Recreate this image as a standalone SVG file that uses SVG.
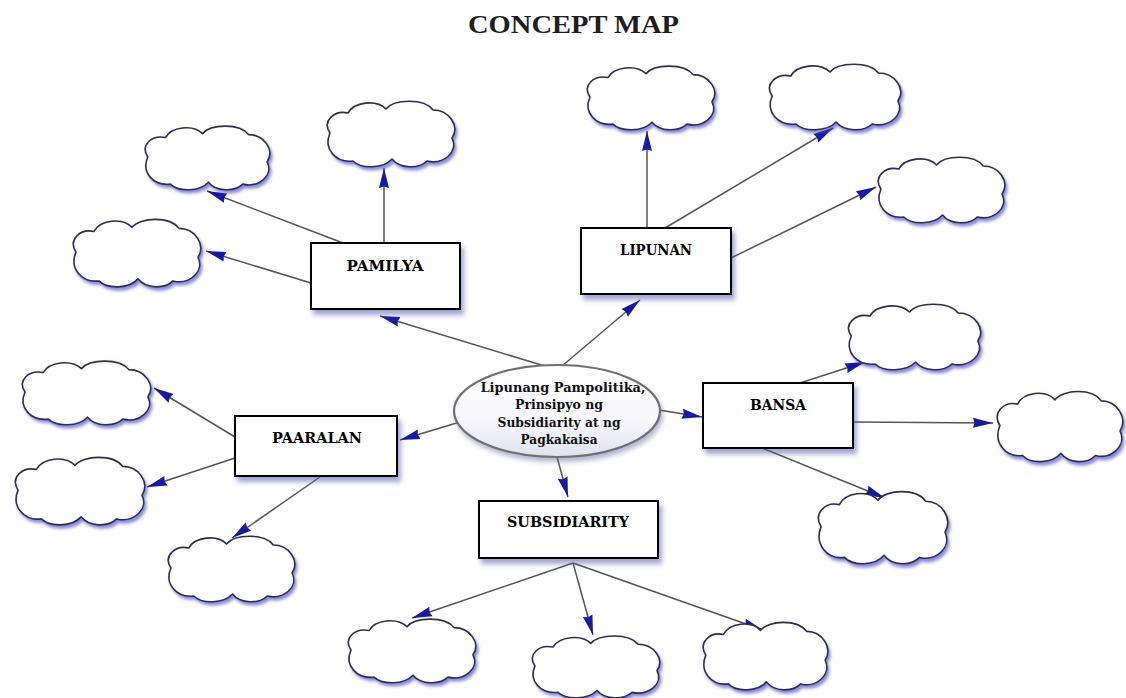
<svg xmlns="http://www.w3.org/2000/svg" xmlns:xlink="http://www.w3.org/1999/xlink" width="1126" height="698" viewBox="0 0 1126 698">
  <style>
    .title { font-family: "Liberation Serif", "Times New Roman", serif; font-weight: bold; font-size: 26px; fill: #1e1e1e; }
    .lbl { font-family: "DejaVu Serif", "Liberation Serif", serif; font-weight: bold; font-size: 14px; fill: #000; text-anchor: middle; }
    .clbl { font-family: "DejaVu Serif", "Liberation Serif", serif; font-weight: bold; font-size: 13px; fill: #111; text-anchor: middle; }
    .box { fill: #ffffff; stroke: #000000; stroke-width: 2; filter: url(#boxShadow); }
    .cloudPath { fill: #ffffff; stroke: #2e2e48; stroke-width: 1.6; vector-effect: non-scaling-stroke; stroke-linejoin: round; }
    .cloud { filter: url(#cloudShadow); }
    .conn line { stroke: #555555; stroke-width: 1.5; fill: none; marker-end: url(#arrow); }
  </style>
  <defs>
    <filter id="boxShadow" x="-10%" y="-20%" width="130%" height="160%">
      <feDropShadow dx="3" dy="5" stdDeviation="2.5" flood-color="#5a5aa8" flood-opacity="0.55"/>
    </filter>
    <filter id="cloudShadow" x="-10%" y="-15%" width="130%" height="140%">
      <feDropShadow dx="2" dy="3" stdDeviation="1.5" flood-color="#3a3ac8" flood-opacity="0.6"/>
    </filter>
    <filter id="ellShadow" x="-10%" y="-20%" width="130%" height="150%">
      <feDropShadow dx="2" dy="4" stdDeviation="2.5" flood-color="#6a6aa0" flood-opacity="0.5"/>
    </filter>
    <linearGradient id="ellGrad" x1="0" y1="0" x2="0" y2="1">
      <stop offset="0" stop-color="#ffffff"/>
      <stop offset="0.6" stop-color="#f7f7fc"/>
      <stop offset="1" stop-color="#e2e2ee"/>
    </linearGradient>
    <marker id="arrow" markerUnits="userSpaceOnUse" markerWidth="21" markerHeight="11" refX="20" refY="5.5" orient="auto">
      <path d="M0,0.5 L20,5.5 L0,10.5 L1.5,5.5 Z" fill="#1a1a9e"/>
    </marker>
    <path id="cloudShape" class="cloudPath" d="M8,36 C0,24 12,13 26,16 C32,5 54,2 64,12 C72,2 102,1 111,13 C127,13 138,29 130,41 C137,55 121,68 105,64 C97,72 78,72 70,62 C61,72 39,72 31,64 C14,66 1,52 8,36 Z"/>
  </defs>

  <rect x="0" y="0" width="1126" height="698" fill="#ffffff"/>

  <text class="title" x="468" y="33" textLength="211" lengthAdjust="spacingAndGlyphs">CONCEPT MAP</text>

  <g id="connectors" class="conn">
    <line x1="548" y1="367" x2="380" y2="316"/>
    <line x1="562" y1="366" x2="640" y2="300"/>
    <line x1="460" y1="422" x2="400" y2="440"/>
    <line x1="659" y1="410" x2="702" y2="417"/>
    <line x1="557" y1="457" x2="568" y2="497"/>
    <line x1="343" y1="243" x2="207" y2="191"/>
    <line x1="384" y1="243" x2="384" y2="168"/>
    <line x1="311" y1="283" x2="206" y2="251"/>
    <line x1="647" y1="228" x2="647" y2="131"/>
    <line x1="665" y1="228" x2="833" y2="128"/>
    <line x1="731" y1="258" x2="876" y2="187"/>
    <line x1="235" y1="437" x2="154" y2="388"/>
    <line x1="235" y1="458" x2="147" y2="487"/>
    <line x1="320" y1="477" x2="232" y2="538"/>
    <line x1="573" y1="563" x2="412" y2="618"/>
    <line x1="573" y1="563" x2="593" y2="635"/>
    <line x1="573" y1="563" x2="763" y2="630"/>
    <line x1="800" y1="383" x2="865" y2="362"/>
    <line x1="853" y1="422" x2="993" y2="423"/>
    <line x1="762" y1="448" x2="885" y2="498"/>
  </g>

  <g id="center">
    <ellipse cx="557" cy="411" rx="103" ry="46" fill="url(#ellGrad)" stroke="#707070" stroke-width="2.2" filter="url(#ellShadow)"/>
    <text class="clbl" x="563" y="392" textLength="165" lengthAdjust="spacingAndGlyphs">Lipunang Pampolitika,</text>
    <text class="clbl" x="559" y="409" textLength="88" lengthAdjust="spacingAndGlyphs">Prinsipyo ng</text>
    <text class="clbl" x="559" y="427" textLength="123" lengthAdjust="spacingAndGlyphs">Subsidiarity at ng</text>
    <text class="clbl" x="559" y="444" textLength="77" lengthAdjust="spacingAndGlyphs">Pagkakaisa</text>
  </g>

  <g id="pamilya">
    <rect class="box" x="311" y="243" width="149" height="66"/>
    <text class="lbl" x="385" y="271" textLength="77" lengthAdjust="spacingAndGlyphs">PAMILYA</text>
  </g>
  <g id="lipunan">
    <rect class="box" x="581" y="228" width="150" height="66"/>
    <text class="lbl" x="656" y="255" textLength="72" lengthAdjust="spacingAndGlyphs">LIPUNAN</text>
  </g>
  <g id="paaralan">
    <rect class="box" x="235" y="416" width="162" height="60"/>
    <text class="lbl" x="317" y="443" textLength="90" lengthAdjust="spacingAndGlyphs">PAARALAN</text>
  </g>
  <g id="bansa">
    <rect class="box" x="703" y="383" width="150" height="65"/>
    <text class="lbl" x="778" y="410" textLength="56" lengthAdjust="spacingAndGlyphs">BANSA</text>
  </g>
  <g id="subsidiarity">
    <rect class="box" x="479" y="501" width="179" height="57"/>
    <text class="lbl" x="568" y="527" textLength="122" lengthAdjust="spacingAndGlyphs">SUBSIDIARITY</text>
  </g>

  <g id="cloud-pamilya-1" class="cloud" transform="translate(140,122) scale(0.978,0.971)"><use href="#cloudShape"/></g>
  <g id="cloud-pamilya-2" class="cloud" transform="translate(322,97) scale(1,1)"><use href="#cloudShape"/></g>
  <g id="cloud-pamilya-3" class="cloud" transform="translate(68,215) scale(1,1.03)"><use href="#cloudShape"/></g>
  <g id="cloud-lipunan-1" class="cloud" transform="translate(582,62) scale(1,0.971)"><use href="#cloudShape"/></g>
  <g id="cloud-lipunan-2" class="cloud" transform="translate(764,60) scale(1.03,1)"><use href="#cloudShape"/></g>
  <g id="cloud-lipunan-3" class="cloud" transform="translate(873,153) scale(0.993,1)"><use href="#cloudShape"/></g>
  <g id="cloud-paaralan-1" class="cloud" transform="translate(17,357) scale(1.007,0.971)"><use href="#cloudShape"/></g>
  <g id="cloud-paaralan-2" class="cloud" transform="translate(10,453) scale(1.015,1.03)"><use href="#cloudShape"/></g>
  <g id="cloud-paaralan-3" class="cloud" transform="translate(163,532) scale(0.993,1)"><use href="#cloudShape"/></g>
  <g id="cloud-subsidiarity-1" class="cloud" transform="translate(343,615) scale(1,0.971)"><use href="#cloudShape"/></g>
  <g id="cloud-subsidiarity-2" class="cloud" transform="translate(527,632) scale(1,0.943)"><use href="#cloudShape"/></g>
  <g id="cloud-subsidiarity-3" class="cloud" transform="translate(698,618) scale(0.978,1.03)"><use href="#cloudShape"/></g>
  <g id="cloud-bansa-1" class="cloud" transform="translate(843,300) scale(1.037,1)"><use href="#cloudShape"/></g>
  <g id="cloud-bansa-2" class="cloud" transform="translate(992,387) scale(0.985,1.07)"><use href="#cloudShape"/></g>
  <g id="cloud-bansa-3" class="cloud" transform="translate(813,487) scale(1.015,1.1)"><use href="#cloudShape"/></g>
</svg>
